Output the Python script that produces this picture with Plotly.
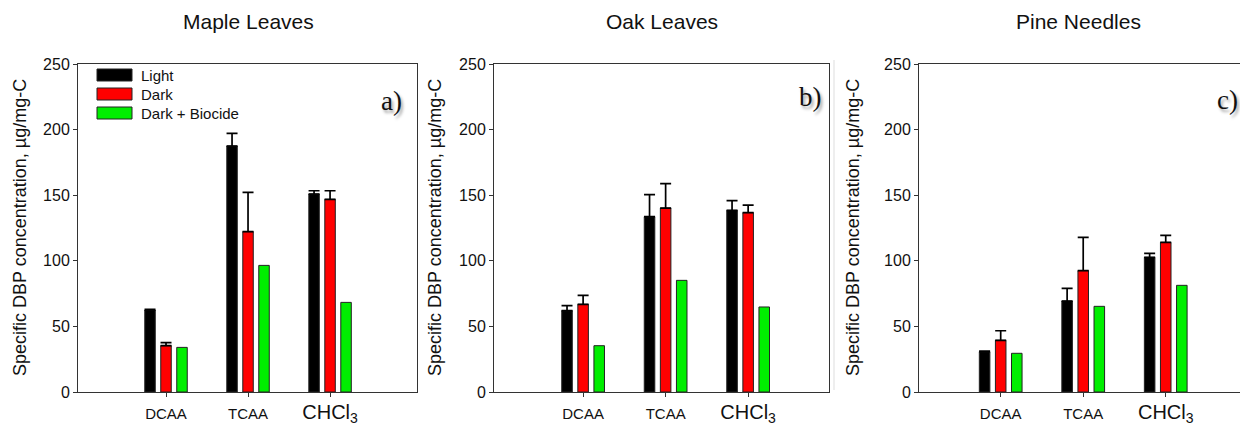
import plotly.graph_objects as go

# ---- data -------------------------------------------------------------
categories = ["DCAA", "TCAA", "CHCl3"]
tick_labels = ["DCAA", "TCAA", '<span style="font-size:20px">CHCl<sub>3</sub></span>']
series_names = ["Light", "Dark", "Dark + Biocide"]
series_colors = ["#000000", "#ff0000", "#00ee00"]
panel_titles = ["Maple Leaves", "Oak Leaves", "Pine Needles"]
panel_tags = ["a)", "b)", "c)"]

maple_light = [62.5, 187.5, 150.9]
maple_light_err = [0.5, 9.6, 2.5]
maple_dark = [35.3, 122.2, 146.8]
maple_dark_err = [2.3, 30.0, 6.6]
maple_biocide = [34.0, 96.5, 68.3]

oak_light = [62.0, 133.6, 138.4]
oak_light_err = [3.8, 16.8, 7.4]
oak_dark = [66.8, 140.2, 136.7]
oak_dark_err = [6.9, 18.6, 5.8]
oak_biocide = [35.3, 85.1, 64.8]

pine_light = [30.7, 69.3, 102.6]
pine_light_err = [0.5, 9.7, 3.1]
pine_dark = [39.4, 92.5, 114.0]
pine_dark_err = [7.3, 25.4, 5.4]
pine_biocide = [29.5, 65.3, 81.3]

y_ticks = [0, 50, 100, 150, 200, 250]

# ---- layout helpers (pixel -> paper) ----------------------------------
W, H = 1240, 425


def px(x):
    return x / W


def py(y):
    return 1 - y / H


FONT = "Arial, Liberation Sans, sans-serif"
SERIF = "Times New Roman, Liberation Serif, serif"
AXIS_COLOR = "#333333"

panels = [
    dict(values=[maple_light, maple_dark, maple_biocide],
         errors=[maple_light_err, maple_dark_err, None],
         domain=[px(78), px(417)], xrange=[-1.073, 3.06],
         title_x=248, tag_xy=(391, 101), ytitle_x=20, right_line=True),
    dict(values=[oak_light, oak_dark, oak_biocide],
         errors=[oak_light_err, oak_dark_err, None],
         domain=[px(494), px(829)], xrange=[-1.08, 2.98],
         title_x=662, tag_xy=(810, 97), ytitle_x=435, right_line=True),
    dict(values=[pine_light, pine_dark, pine_biocide],
         errors=[pine_light_err, pine_dark_err, None],
         domain=[px(919), 1.0], xrange=[-0.99, 2.9],
         title_x=1078, tag_xy=(1227, 100), ytitle_x=853, right_line=False),
]

fig = go.Figure()
annotations = []
shapes = []
y_domain = [py(392), py(64)]

for i, p in enumerate(panels):
    n = "" if i == 0 else str(i + 1)
    for name, color, vals, errs in zip(series_names, series_colors,
                                       p["values"], p["errors"]):
        err = None
        if errs is not None:
            err = dict(type="data", array=errs, arrayminus=[0] * len(errs),
                       symmetric=False, color="#000000", thickness=1.7, width=5.5)
        fig.add_trace(go.Bar(
            x=categories, y=vals, name=name, marker_color=color,
            marker_line=dict(color="#222222", width=1),
            error_y=err, showlegend=False,
            xaxis="x" + n, yaxis="y" + n,
        ))

    fig.layout["xaxis" + n] = dict(
        domain=p["domain"], anchor="y" + n, range=p["xrange"],
        type="category", tickvals=categories, ticktext=tick_labels,
        showline=True, linecolor=AXIS_COLOR, linewidth=1, mirror=True,
        ticks="outside", ticklen=4, tickcolor=AXIS_COLOR, showgrid=False,
        tickfont=dict(family=FONT, size=15, color="#111111"),
        ticklabelstandoff=4,
        zeroline=False, fixedrange=True, automargin=False,
    )
    fig.layout["yaxis" + n] = dict(
        domain=y_domain, anchor="x" + n, range=[0, 250],
        tickvals=y_ticks, showline=True, linecolor=AXIS_COLOR, linewidth=1,
        mirror=p["right_line"], ticks="outside", ticklen=4,
        tickcolor=AXIS_COLOR, showgrid=False, zeroline=False,
        tickfont=dict(family=FONT, size=16, color="#111111"),
        fixedrange=True, automargin=False,
    )

    annotations.append(dict(
        text=panel_titles[i], x=px(p["title_x"]), y=py(22), xref="paper",
        yref="paper", xanchor="center", yanchor="middle", showarrow=False,
        font=dict(family=FONT, size=21, color="#111111"),
    ))
    annotations.append(dict(
        text="Specific DBP concentration, µg/mg-C", textangle=-90,
        x=px(p["ytitle_x"]), y=py(228), xref="paper", yref="paper",
        xanchor="center", yanchor="middle", showarrow=False,
        font=dict(family=FONT, size=18, color="#111111"),
    ))
    tx, ty = p["tag_xy"]
    annotations.append(dict(
        text=panel_tags[i], x=px(tx), y=py(ty), xref="paper", yref="paper",
        xanchor="center", yanchor="middle", showarrow=False,
        font=dict(family=SERIF, size=27, color="#111111",
                  shadow="2px 3px 3px rgba(0,0,0,0.35)"),
    ))

# legend inside the first panel
for k, (name, color) in enumerate(zip(series_names, series_colors)):
    cy = 75 + 19 * k
    shapes.append(dict(
        type="rect", xref="paper", yref="paper",
        x0=px(97), x1=px(132), y0=py(cy + 6), y1=py(cy - 6),
        fillcolor=color, line=dict(color="#222222", width=1),
    ))
    annotations.append(dict(
        text=name, x=px(139), y=py(cy), xref="paper", yref="paper",
        xanchor="left", yanchor="middle", showarrow=False,
        font=dict(family=FONT, size=15, color="#111111"),
    ))

# faint separator at the edge of the third panel
shapes.append(dict(type="line", xref="paper", yref="paper",
                   x0=px(834), x1=px(834), y0=py(390), y1=py(60),
                   line=dict(color="#dddddd", width=1)))

fig.update_layout(
    template="none",
    width=W, height=H, margin=dict(l=0, r=0, t=0, b=0),
    paper_bgcolor="white", plot_bgcolor="white",
    barmode="group", bargap=0.415, bargroupgap=0.344,
    annotations=annotations, shapes=shapes, showlegend=False,
    font=dict(family=FONT),
)

fig.write_html("out.html")
